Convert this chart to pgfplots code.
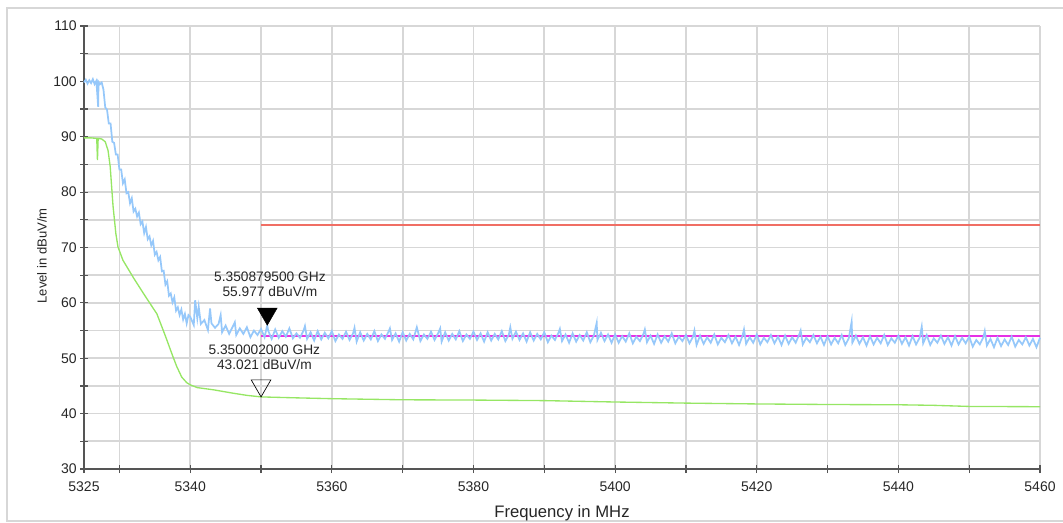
\documentclass[border=0pt]{standalone}
\usepackage{pgfplots}
\pgfplotsset{compat=1.18}
\usepackage{fontspec}
\setmainfont{Liberation Sans}
\definecolor{trblue}{RGB}{150,200,250}
\definecolor{trgreen}{RGB}{150,230,100}
\definecolor{limred}{RGB}{240,110,100}
\definecolor{limmag}{RGB}{230,50,230}
\definecolor{gridc}{RGB}{215,215,215}
\definecolor{axc}{RGB}{85,85,85}
\begin{document}
\begin{tikzpicture}
\useasboundingbox (-63pt,-39.75pt) rectangle (734.25pt,351.75pt);
\draw[gridc,line width=0.8pt] (734.25pt,345.75pt) -- (-57.75pt,345.75pt) -- (-57.75pt,-39pt) -- (734.25pt,-39pt);
\begin{axis}[
  at={(0,0)}, anchor=south west,
  scale only axis, width=717pt, height=332.25pt,
  xmin=5325, xmax=5460, ymin=30, ymax=110,
  xtick={5325,5330,5340,5350,5360,5370,5380,5390,5400,5410,5420,5430,5440,5450,5460},
  xticklabels={5325,,5340,,5360,,5380,,5400,,5420,,5440,,5460},
  ytick={30,35,40,45,50,55,60,65,70,75,80,85,90,95,100,105,110},
  yticklabels={30,,40,,50,,60,,70,,80,,90,,100,,110},
  /pgf/number format/assume math mode=true,
  grid=major, grid style={gridc, line width=1.3pt},
  axis lines*=left,
  axis line style={axc, line width=1.4pt},
  tick style={axc, line width=0.9pt},
  tick align=center, major tick length=6pt,
  ticklabel style={font=\fontsize{10.5}{12}\selectfont, text=black!85},
  xticklabel style={yshift=-3pt},
  yticklabel style={xshift=1pt},
  xlabel={Frequency in MHz},
  ylabel={Level in dBuV/m},
  xlabel style={font=\fontsize{12.5}{14}\selectfont, text=black!85, at={(axis description cs:0.5,0)}, anchor=center, yshift=-33pt},
  ylabel style={font=\fontsize{9.8}{12}\selectfont, text=black!85, at={(axis description cs:0,0.481)}, anchor=center, yshift=31.5pt},
  clip=false,
]
% limit lines
\addplot[limmag, line width=1pt] coordinates {(5350,54) (5460,54)};
\addplot[limred, line width=1.5pt] coordinates {(5350,74) (5460,74)};
% green trace
\addplot[trgreen, line width=1pt] coordinates {
(5325,89.8) (5326,89.8) (5326.8,89.7) (5326.9,85.8) (5327.0,89.7) (5327.5,89.6) (5328,89.1)
(5328.4,87.5) (5328.7,84.6) (5329.1,77.5) (5329.5,72.5) (5329.8,70.1) (5330.5,67.7)
(5332,64.5) (5333.5,61.5) (5335.3,58.0) (5336.5,54.0) (5337.5,50.5) (5338.1,48.5)
(5338.8,46.6) (5339.5,45.6) (5340,45.2) (5341,44.7) (5343.3,44.3) (5346,43.7) (5348,43.3)
(5350,43.02) (5355,42.85) (5360,42.7) (5370,42.5) (5380,42.45) (5390,42.35) (5400,42.1)
(5410,41.9) (5420,41.75) (5430,41.65) (5440,41.6) (5445,41.5) (5450,41.3) (5460,41.25)
};
% blue trace
\addplot[trblue, line width=1.3pt] coordinates {
(5325.00,99.8) (5325.25,100.3) (5325.50,99.6) (5325.75,100.2) (5326.00,99.7) (5326.25,100.4)
(5326.50,99.5) (5326.75,100.1) (5327.00,95.4) (5327.05,99.9) (5327.25,99.5) (5327.50,99.8)
(5327.75,98.5) (5328.00,95.3) (5328.25,94.9) (5328.50,92.4) (5328.75,92.4) (5329.00,89.1)
(5329.25,88.9) (5329.50,86.8) (5329.75,86.8) (5330.00,84.1) (5330.25,84.1) (5330.50,81.6)
(5330.75,82.3) (5331.00,79.8) (5331.25,80.0) (5331.50,78.0) (5331.75,78.9) (5332.00,76.5)
(5332.25,77.0) (5332.50,75.6) (5332.75,76.3) (5333.00,74.2) (5333.25,74.7) (5333.50,72.6)
(5333.75,73.7) (5334.00,71.5) (5334.25,72.0) (5334.50,70.4) (5334.75,71.2) (5335.00,68.7)
(5335.25,69.2) (5335.50,67.7) (5335.75,68.3) (5336.00,65.7) (5336.25,65.8) (5336.50,63.3)
(5336.75,63.9) (5337.00,61.3) (5337.25,61.7) (5337.50,60.1) (5337.75,61.0) (5338.00,58.6)
(5338.25,59.2) (5338.50,57.8) (5338.75,58.8) (5339.00,57.0) (5339.25,58.0) (5339.50,56.3)
(5339.75,57.8)
(5340.0,57.5) (5340.5,56.0) (5340.7,60.5) (5341.0,57.2) (5341.2,59.3) (5341.5,56.2)
(5342.0,56.9) (5342.5,55.1) (5342.8,59.0) (5343.0,56.3) (5343.5,55.5)
(5344.0,56.2) (5344.3,57.8) (5344.5,54.7) (5345.0,55.9) (5345.5,54.4)
(5346.0,55.7) (5346.3,56.5) (5346.5,54.2) (5347.0,55.4) (5347.5,54.4)
(5348.0,55.6) (5348.5,53.8) (5349.0,55.0) (5349.5,54.2)
(5350.0,55.3) (5350.5,53.8) (5350.88,55.977) (5351.0,55.0) (5351.5,53.5) (5352.0,55.2) (5352.5,53.7)
(5353.0,54.9) (5353.5,53.9) (5354.0,55.4) (5354.5,53.6)
(5355.0,54.5) (5355.5,53.7) (5356.0,55.0) (5356.2,55.8) (5356.5,53.5) (5357.0,54.7) (5357.5,53.2)
(5358.0,54.9) (5358.5,53.4) (5359.0,54.6) (5359.5,53.6)
(5360.0,54.9) (5360.5,53.1) (5361.0,54.3) (5361.5,53.5) (5362.0,54.8) (5362.5,53.3)
(5363.0,54.5) (5363.2,55.5) (5363.5,53.0) (5364.0,54.7) (5364.5,53.2) (5365.0,54.4) (5365.5,53.4)
(5366.0,54.9) (5366.5,53.1) (5367.0,54.3) (5367.5,53.5) (5368.0,54.8) (5368.2,55.4) (5368.5,53.3)
(5369.0,54.5) (5369.5,53.0) (5370.0,54.7) (5370.5,53.2) (5371.0,54.4) (5371.5,53.4)
(5372.0,55.6) (5372.5,53.1) (5373.0,54.3) (5373.5,53.5) (5374.0,54.8) (5374.5,53.3)
(5375.0,54.5) (5375.3,55.4) (5375.5,53.0) (5376.0,54.7) (5376.5,53.2) (5377.0,54.4) (5377.5,53.4)
(5378.0,54.9) (5378.5,53.1) (5379.0,54.3) (5379.5,53.5) (5380.0,54.8) (5380.5,53.3)
(5381.0,54.5) (5381.5,53.0) (5382.0,54.7) (5382.5,53.2) (5383.0,54.4) (5383.5,53.4)
(5384.0,54.9) (5384.5,53.1) (5385.0,54.3) (5385.2,55.6) (5385.5,53.5) (5386.0,54.8) (5386.5,53.3)
(5387.0,54.5) (5387.5,53.0) (5388.0,54.7) (5388.5,53.2) (5389.0,54.4) (5389.5,53.4)
(5390.0,54.7) (5390.5,52.9) (5391.0,54.1) (5391.5,53.3) (5392.0,54.6) (5392.2,55.3) (5392.5,53.1)
(5393.0,54.3) (5393.5,52.8) (5394.0,54.5) (5394.5,53.0) (5395.0,54.2) (5395.5,53.2)
(5396.0,54.7) (5396.5,52.9) (5397.0,54.1) (5397.4,56.4) (5397.5,53.3) (5398.0,54.6) (5398.5,53.1)
(5399.0,54.3) (5399.5,52.8)
(5400.0,54.3) (5400.5,52.8) (5401.0,54.0) (5401.5,53.0) (5402.0,54.5) (5402.5,52.7)
(5403.0,53.9) (5403.5,53.1) (5404.0,54.4) (5404.2,55.2) (5404.5,52.9) (5405.0,54.1) (5405.5,52.6)
(5406.0,54.3) (5406.5,52.8) (5407.0,54.0) (5407.5,53.0) (5408.0,54.5) (5408.5,52.7)
(5409.0,53.9) (5409.5,53.1)
(5410.0,54.2) (5410.5,52.7) (5411.0,53.9) (5411.2,55.0) (5411.5,52.4) (5412.0,54.1) (5412.5,52.6)
(5413.0,53.8) (5413.5,52.8) (5414.0,54.3) (5414.5,52.5) (5415.0,53.7) (5415.5,52.9)
(5416.0,54.2) (5416.5,52.7) (5417.0,53.9) (5417.5,52.4) (5418.0,54.1) (5418.2,55.2) (5418.5,52.6)
(5419.0,53.8) (5419.5,52.8) (5420.0,54.3) (5420.5,52.5) (5421.0,53.7) (5421.5,52.9)
(5422.0,54.2) (5422.5,52.7) (5423.0,53.9) (5423.5,52.4) (5424.0,54.1) (5424.5,52.6)
(5425.0,53.8) (5425.5,52.8) (5426.0,54.3) (5426.2,55.0) (5426.5,52.5) (5427.0,53.7) (5427.5,52.9)
(5428.0,54.2) (5428.5,52.7) (5429.0,53.9) (5429.5,52.4)
(5430.0,54.0) (5430.5,52.5) (5431.0,53.7) (5431.5,52.7) (5432.0,54.2) (5432.5,52.4)
(5433.0,53.6) (5433.4,56.6) (5433.5,52.8) (5434.0,54.1) (5434.5,52.6) (5435.0,53.8) (5435.5,52.3)
(5436.0,54.0) (5436.5,52.5) (5437.0,53.7) (5437.5,52.7) (5438.0,54.2) (5438.5,52.4)
(5439.0,53.6) (5439.5,52.8) (5440.0,54.1) (5440.5,52.6) (5441.0,53.8) (5441.5,52.3)
(5442.0,54.0) (5442.5,52.5) (5443.0,53.7) (5443.3,55.7) (5443.5,52.7) (5444.0,54.2) (5444.5,52.4)
(5445.0,53.6) (5445.5,52.8) (5446.0,54.1) (5446.5,52.6) (5447.0,53.8) (5447.5,52.3)
(5448.0,54.0) (5448.5,52.5) (5449.0,53.7) (5449.5,52.7)
(5450.0,53.9) (5450.5,52.1) (5451.0,53.3) (5451.5,52.5) (5452.0,53.8) (5452.2,54.9) (5452.5,52.3)
(5453.0,53.5) (5453.5,52.0) (5454.0,53.7) (5454.5,52.2) (5455.0,53.4) (5455.5,52.4)
(5456.0,53.9) (5456.5,52.1) (5457.0,53.3) (5457.5,52.5) (5458.0,53.8) (5458.5,52.3)
(5459.0,53.5) (5459.5,52.0) (5460.0,53.7)
};
% markers
\addplot[only marks, mark=triangle*, mark size=8.5pt, mark options={yshift=8.5pt, rotate=180, fill=black, draw=black}] coordinates {(5350.8795,55.977)};
\addplot[only marks, mark=triangle, mark size=8.5pt, mark options={yshift=8.5pt, rotate=180, draw=black, fill=white, line width=0.5pt}] coordinates {(5350.002,43.021)};
\node[align=center, font=\fontsize{10.3}{11.25}\selectfont, text=black!85, inner sep=0pt, anchor=center, xshift=2pt, yshift=31pt] at (axis cs:5350.8795,55.977) {5.350879500 GHz\\55.977 dBuV/m};
\node[align=center, font=\fontsize{10.3}{11.25}\selectfont, text=black!85, inner sep=0pt, anchor=center, xshift=2.5pt, yshift=29.4pt] at (axis cs:5350.002,43.021) {5.350002000 GHz\\43.021 dBuV/m};
\end{axis}
\end{tikzpicture}
\end{document}
